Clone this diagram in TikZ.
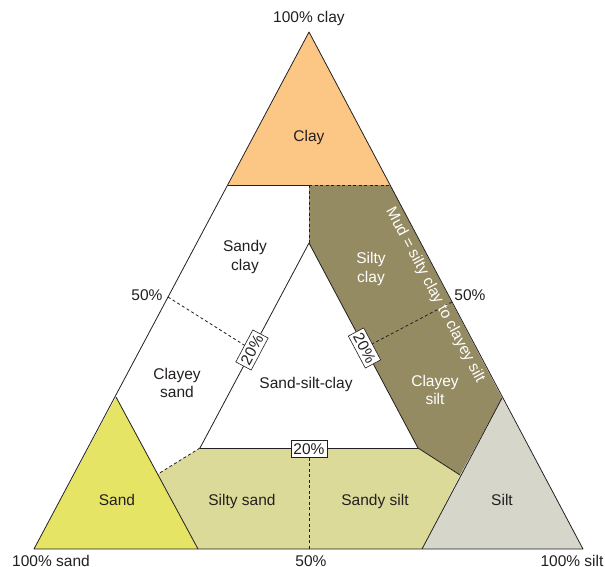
\documentclass[tikz,border=0pt]{standalone}
\usepackage{fontspec}
\setmainfont{Liberation Sans}
\begin{document}
\definecolor{clayfill}{RGB}{252,199,133}
\definecolor{sandfill}{RGB}{230,228,100}
\definecolor{siltfill}{RGB}{214,214,202}
\definecolor{mudfill}{RGB}{149,139,99}
\definecolor{mixfill}{RGB}{220,218,152}
\definecolor{ink}{RGB}{35,31,32}
\begin{tikzpicture}[x=1pt,y=-1pt,
  edge/.style={draw=ink,line width=0.8pt,line join=round},
  dashline/.style={draw=ink,line width=0.8pt,dash pattern=on 3pt off 2.5pt},
  lbl/.style={text=ink,font=\fontsize{15.5}{18.5}\selectfont,align=center,inner sep=0pt},
  wlbl/.style={lbl,text=white},
  pct/.style={draw=ink,line width=0.6pt,fill=white,text=ink,
    font=\fontsize{15.5}{18.5}\selectfont,inner xsep=2.6pt,inner ysep=3.2pt}]
\useasboundingbox (0,0) rectangle (605,567);
\fill[white] (0,0) rectangle (605,567);
% corners of the triangle
\coordinate (A) at (34,549);   % sand
\coordinate (B) at (583,549);  % silt
\coordinate (C) at (309,32);   % clay
% corner triangles
\coordinate (cl) at (228,185);
\coordinate (cr) at (390,185);
\coordinate (sr) at (198,549);
\coordinate (st) at (116,397);
\coordinate (tl) at (422,549);
\coordinate (tt) at (502,398);
% inner field
\coordinate (it) at (309,243);
\coordinate (il) at (200,448);
\coordinate (ir) at (418,448);
\coordinate (mt) at (309,185);
\coordinate (mb) at (460,475);
\coordinate (bl) at (158,474);
\coordinate (bm) at (309,549);
\coordinate (l50) at (168,297);
\coordinate (r50) at (452,302);
% fills
\fill[mudfill] (mt) -- (cr) -- (tt) -- (mb) -- (ir) -- (it) -- cycle;
\fill[mixfill] (bl) -- (il) -- (ir) -- (mb) -- (tl) -- (sr) -- cycle;
\fill[clayfill] (C) -- (cl) -- (cr) -- cycle;
\fill[sandfill] (A) -- (sr) -- (st) -- cycle;
\fill[siltfill] (B) -- (tl) -- (tt) -- cycle;
% boundaries
\draw[edge] (A) -- (B) -- (C) -- cycle;
\draw[edge] (cl) -- (mt);
\draw[dashline] (mt) -- (cr);
\draw[dashline] (mt) -- (it);
\draw[edge] (il) -- (it) -- (ir) -- (mb);
\draw[edge] (il) -- (ir);
\draw[dashline] (il) -- (bl);
\draw[edge] (st) -- (sr);
\draw[edge] (tt) -- (tl);
% percentage boxes
\node[pct,rotate=62.1] (p20l) at (252,350) {20\%};
\node[pct,rotate=-62.1] (p20r) at (364.5,348) {20\%};
\node[pct] (p20b) at (309,449) {20\%};
\draw[dashline] (l50) -- (p20l);
\draw[dashline] (r50) -- (p20r);
\draw[dashline] (p20b) -- (bm);
% class names
\node[lbl] (nclay) at (309,137) {Clay};
\node[lbl] (nsandyclay) at (245,257) {Sandy\\clay};
\node[lbl] (nclayeysand) at (177,383) {Clayey\\sand};
\node[lbl] (nssc) at (306,384) {Sand-silt-clay};
\node[wlbl] (nsiltyclay) at (371,269) {Silty\\clay};
\node[wlbl] (nclayeysilt) at (435,390) {Clayey\\silt};
\node[wlbl,rotate=-62.1] (nmud) at (435,295) {Mud = silty clay to clayey silt};
\node[lbl] (nsand) at (117,500) {Sand};
\node[lbl] (nsiltysand) at (242,501) {Silty sand};
\node[lbl] (nsandysilt) at (375,501) {Sandy silt};
\node[lbl] (nsilt) at (502,500) {Silt};
% end-member and axis labels
\node[lbl] (tclay) at (309,18) {100\% clay};
\node[lbl] (tsand) at (51,561) {100\% sand};
\node[lbl] (tsilt) at (572,561) {100\% silt};
\node[lbl] (t50b) at (311,561) {50\%};
\node[lbl] (t50l) at (147,295) {50\%};
\node[lbl] (t50r) at (470,295) {50\%};
\end{tikzpicture}
\end{document}
